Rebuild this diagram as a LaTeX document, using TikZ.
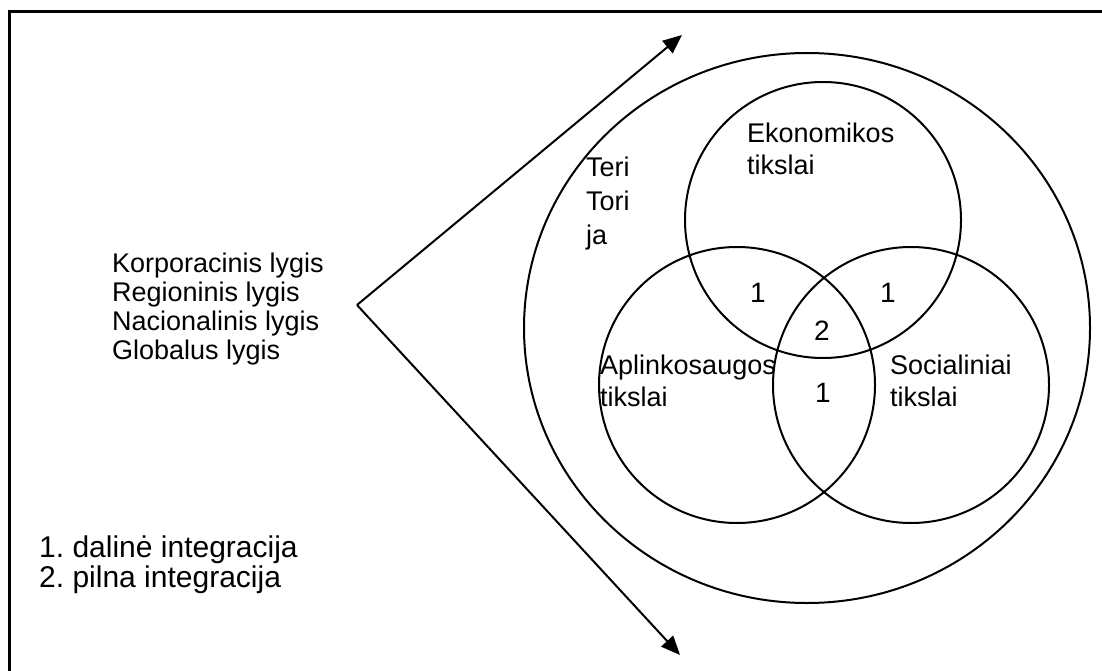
\documentclass[tikz,border=0pt]{standalone}
\usepackage{fontspec}
\setmainfont{Liberation Sans}
\usetikzlibrary{arrows.meta,shapes.geometric}
\frenchspacing
\begin{document}
\begin{tikzpicture}[x=1pt,y=-1pt,
  ring/.style={draw,line width=2pt,circle,minimum size=276pt,inner sep=0pt},
  txt/.style={anchor=north west,inner sep=0pt,align=left,font=\fontsize{27}{32}\selectfont},
  num/.style={anchor=base,inner sep=0pt,font=\fontsize{28}{32}\selectfont},
  arr/.style={line width=2pt,-{Triangle[length=19pt,width=16pt]}}]
\useasboundingbox (0,0) rectangle (1102,671);
% frame (top and left edges)
\draw[line width=3pt] (1102,12) -- (9,12) -- (9,671);
% territory and the three goal circles
\node[draw,line width=2pt,ellipse,minimum width=566pt,minimum height=550pt,inner sep=0pt] (terr) at (807,328) {};
\node[ring] (eko) at (823,220) {};
\node[ring] (apl) at (737,385) {};
\node[ring] (soc) at (911,385) {};
% levels and the two arrows
\node[txt,font=\fontsize{27}{29}\selectfont] (lvl) at (112,253) {Korporacinis lygis\\Regioninis lygis\\Nacionalinis lygis\\Globalus lygis};
\coordinate (v) at (357,305);
\coordinate (up) at (682,35);
\coordinate (down) at (680,655);
\draw[arr] (v) -- (up);
\draw[arr] (v) -- (down);
% labels
\node[txt,font=\fontsize{27}{34}\selectfont] (teri) at (586,157) {Teri\\Tori\\ja};
\node[txt] (ekot) at (747,123) {Ekonomikos\\tikslai};
\node[txt] (aplt) at (600,355) {Aplinkosaugos\\tikslai};
\node[txt] (soct) at (890,355) {Socialiniai\\tikslai};
\node[num] (n1) at (758,302) {1};
\node[num] (n2) at (888,302) {1};
\node[num] (n3) at (822,340) {2};
\node[num] (n4) at (823,402) {1};
% legend
\node[txt,font=\fontsize{30}{30}\selectfont] (leg) at (39,536) {1. dalinė integracija\\2. pilna integracija};
\end{tikzpicture}
\end{document}
